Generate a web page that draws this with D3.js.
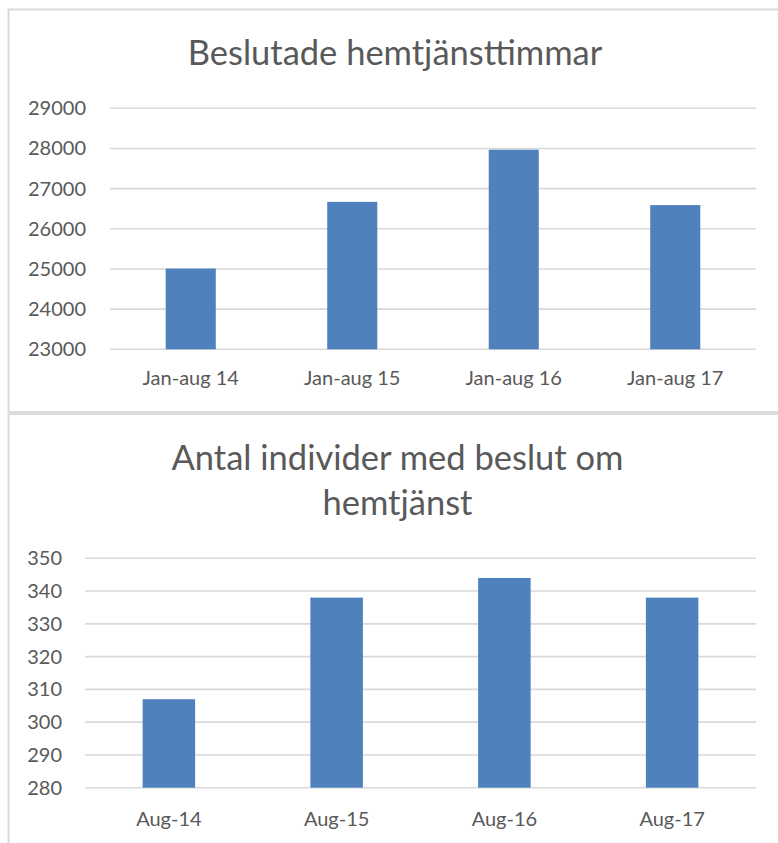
<!DOCTYPE html>
<html>
<head>
<meta charset="utf-8">
<script src="https://cdn.jsdelivr.net/npm/d3@7"></script>
<style>
  html, body { margin: 0; padding: 0; background: #fff; }
  svg { display: block; }
  text { font-family: Lato, "Open Sans", sans-serif; fill: #595959; }
  .title { font-weight: 400; }
</style>
</head>
<body>
<svg id="chart" width="778" height="843"></svg>
<script>
// ---- Data ----
const title1 = ["Beslutade hemtjänsttimmar"];
const categories1 = ["Jan-aug 14", "Jan-aug 15", "Jan-aug 16", "Jan-aug 17"];
const values1 = [25010, 26670, 27970, 26590];
const ticks1 = [23000, 24000, 25000, 26000, 27000, 28000, 29000];

const title2 = ["Antal individer med beslut om", "hemtjänst"];
const categories2 = ["Aug-14", "Aug-15", "Aug-16", "Aug-17"];
const values2 = [307, 338, 344, 338];
const ticks2 = [280, 290, 300, 310, 320, 330, 340, 350];

const svg = d3.select("#chart");
const barColor = "#4f81bd";
const gridColor = "#d9d9d9";

// ---- Frames ----
svg.append("line").attr("x1", 8.5).attr("x2", 8.5).attr("y1", 9).attr("y2", 843)
  .attr("stroke", gridColor).attr("stroke-width", 2);
svg.append("line").attr("x1", 8).attr("x2", 778).attr("y1", 9.5).attr("y2", 9.5)
  .attr("stroke", gridColor).attr("stroke-width", 2);
svg.append("rect").attr("x", 8).attr("y", 411).attr("width", 770).attr("height", 4)
  .attr("fill", "#dcdcdc");

function drawChart(cfg) {
  const g = svg.append("g");
  const y = d3.scaleLinear().domain(cfg.yDomain).range([cfg.bottom, cfg.top]);
  const x = d3.scaleBand().domain(cfg.categories).range([cfg.left, cfg.right])
    .paddingInner(cfg.pad).paddingOuter(cfg.pad / 2);

  // gridlines
  g.selectAll("line.grid").data(cfg.ticks).enter().append("line")
    .attr("class", "grid")
    .attr("x1", cfg.left).attr("x2", cfg.right)
    .attr("y1", d => y(d)).attr("y2", d => y(d))
    .attr("stroke", gridColor).attr("stroke-width", 1.6);

  // y tick labels
  g.selectAll("text.ytick").data(cfg.ticks).enter().append("text")
    .attr("class", "ytick")
    .attr("x", cfg.yLabelX).attr("y", d => y(d) + 7)
    .attr("text-anchor", "end")
    .style("font-size", cfg.tickFont + "px")
    .text(d => d);

  // bars
  g.selectAll("rect.bar").data(cfg.values).enter().append("rect")
    .attr("class", "bar")
    .attr("x", (d, i) => x(cfg.categories[i]))
    .attr("width", x.bandwidth())
    .attr("y", d => y(d))
    .attr("height", d => y(cfg.yDomain[0]) - y(d))
    .attr("fill", barColor);

  // x labels
  g.selectAll("text.xtick").data(cfg.categories).enter().append("text")
    .attr("class", "xtick")
    .attr("x", d => x(d) + x.bandwidth() / 2)
    .attr("y", cfg.xLabelY)
    .attr("text-anchor", "middle")
    .style("font-size", cfg.tickFont + "px")
    .text(d => d);

  // title
  g.selectAll("text.title").data(cfg.title).enter().append("text")
    .attr("class", "title")
    .attr("x", cfg.titleX)
    .attr("y", (d, i) => cfg.titleY + i * cfg.titleLine)
    .attr("text-anchor", "middle")
    .style("font-size", cfg.titleFont + "px")
    .text(d => d);
}

drawChart({
  title: title1, categories: categories1, values: values1, ticks: ticks1,
  yDomain: [23000, 29000], top: 108.3, bottom: 349.3, left: 110, right: 756,
  pad: 0.69, yLabelX: 86, xLabelY: 385, tickFont: 20,
  titleX: 395, titleY: 65, titleLine: 0, titleFont: 34.5
});

drawChart({
  title: title2, categories: categories2, values: values2, ticks: ticks2,
  yDomain: [280, 350], top: 558.3, bottom: 787.7, left: 85, right: 756,
  pad: 0.687, yLabelX: 62, xLabelY: 826, tickFont: 20,
  titleX: 397.5, titleY: 470, titleLine: 44.7, titleFont: 34.5
});
</script>
</body>
</html>
